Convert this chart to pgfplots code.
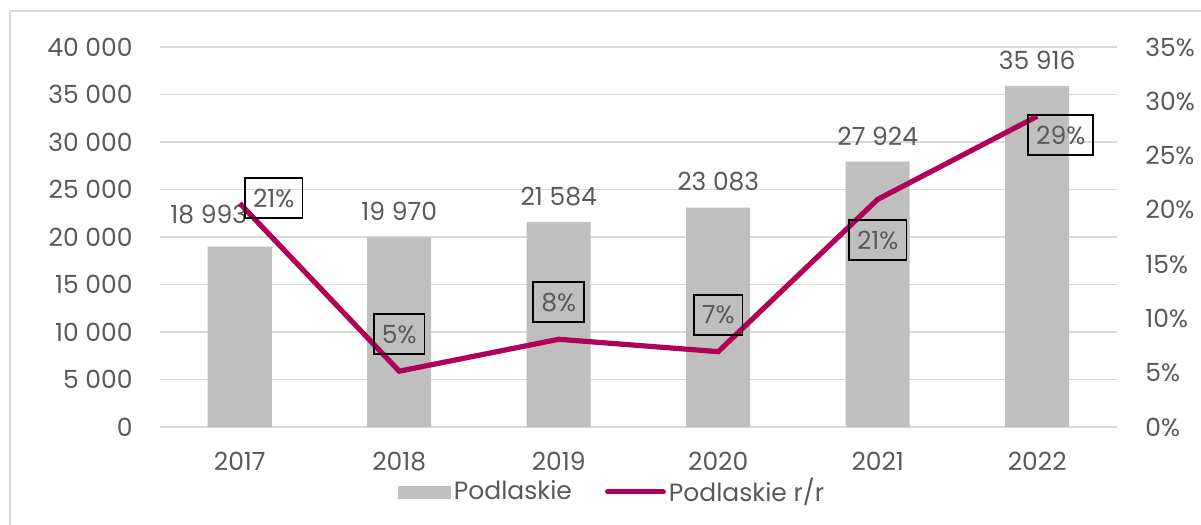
\documentclass[border=0pt]{standalone}
\usepackage{pgfplots}
\pgfplotsset{compat=1.18}
\usepackage{fontspec}
\setmainfont{Poppins}
\definecolor{txt}{HTML}{595959}
\definecolor{barc}{HTML}{BFBFBF}
\definecolor{linec}{HTML}{B0005A}
\definecolor{gridc}{HTML}{D9D9D9}
\begin{document}
\begin{tikzpicture}
\fontsize{12.5}{15}\selectfont
\path[use as bounding box] (0pt,0pt) rectangle (600.5pt,262.5pt);
\draw[gridc, line width=0.75pt] (5pt,0pt) -- (5pt,257pt) -- (600.5pt,257pt);
\pgfplotsset{
  common/.style={
    at={(80pt,49pt)}, anchor=south west,
    scale only axis, width=478.5pt, height=190pt,
    xmin=-0.5, xmax=5.5,
    axis line style={draw=none},
    major tick length=0pt,
    tick label style={text=txt, font=\fontsize{12.5}{15}\selectfont, inner sep=0pt},
    /pgf/number format/assume math mode=true,
    /pgf/number format/1000 sep={\ },
    scaled y ticks=false,
  }
}
\begin{axis}[common,
  ymin=0, ymax=40000,
  ytick={0,5000,...,40000},
  xtick={0,1,2,3,4,5},
  xticklabels={2017,2018,2019,2020,2021,2022},
  xticklabel style={anchor=north, yshift=-12.5pt},
  yticklabel style={anchor=east, xshift=-13.5pt},
  ymajorgrids, grid style={gridc, line width=0.75pt},
  ybar, bar width=32pt,
]
\addplot[fill=barc, draw=none,
  nodes near coords,
  every node near coord/.style={anchor=south, inner sep=0pt, yshift=8pt, text=txt, font=\fontsize{12.5}{15}\selectfont},
  coordinate style/.condition={x<0.5}{xshift=-15.5pt, yshift=3.3pt},
] coordinates {(0,18993) (1,19970) (2,21584) (3,23083) (4,27924) (5,35916)};
\end{axis}
\begin{axis}[common,
  ymin=0, ymax=35,
  ytick={0,5,...,35},
  axis y line*=right,
  hide x axis,
  yticklabel={\pgfmathprintnumber{\tick}\%},
  yticklabel style={anchor=west, xshift=14pt},
  legend columns=2,
  legend style={draw=none, fill=none, at={(0.473,-0.171)}, anchor=center,
    font=\fontsize{12.5}{15}\selectfont, text=txt,
    /tikz/every even column/.append style={column sep=15pt},
    nodes={inner sep=1.5pt}},
]
\addlegendimage{legend image code/.code={\fill[barc] (0pt,-3pt) rectangle (26pt,3pt);}}
\addlegendentry{Podlaskie}
\addlegendimage{legend image code/.code={\draw[linec, line width=2.5pt, line cap=round] (0pt,0pt) -- (28pt,0pt);}}
\addlegendentry{Podlaskie r/r}
\addplot[linec, line width=2.6pt, mark=none,
  nodes near coords={\pgfmathprintnumber[fixed,precision=0]{\pgfplotspointmeta}\%},
  every node near coord/.style={anchor=center, draw=black, line width=0.9pt, inner xsep=4pt, inner ysep=5.5pt, text height=9pt, text depth=0pt, text=txt, font=\fontsize{12.5}{15}\selectfont},
  coordinate style/.condition={x<0.5}{xshift=17pt, yshift=2.5pt},
  coordinate style/.condition={x>0.5 && x<3.5}{yshift=18.5pt},
  coordinate style/.condition={x>3.5 && x<4.5}{yshift=-20.5pt},
  coordinate style/.condition={x>4.5}{xshift=11.75pt, yshift=-9.5pt},
] coordinates {(0,20.6) (1,5.14) (2,8.08) (3,6.94) (4,20.97) (5,28.62)};
\end{axis}
\end{tikzpicture}
\end{document}
